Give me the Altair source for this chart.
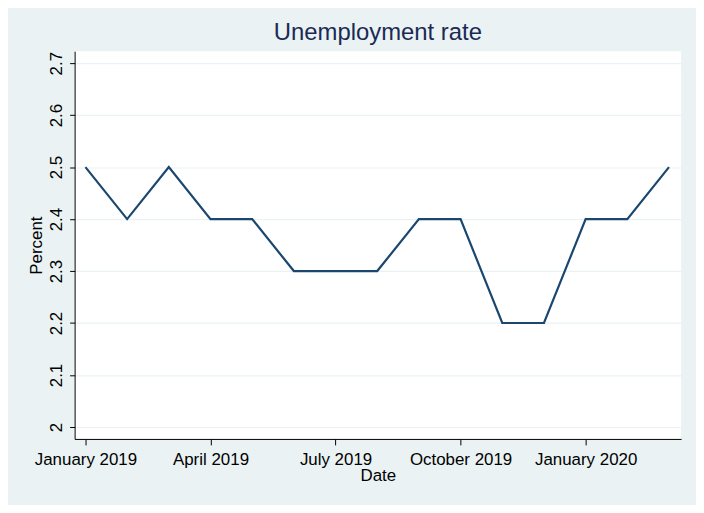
import altair as alt
import pandas as pd

months = ["2019-01", "2019-02", "2019-03", "2019-04", "2019-05", "2019-06", "2019-07",
          "2019-08", "2019-09", "2019-10", "2019-11", "2019-12", "2020-01", "2020-02", "2020-03"]
rates = [2.5, 2.4, 2.5, 2.4, 2.4, 2.3, 2.3, 2.3, 2.4, 2.4, 2.2, 2.2, 2.4, 2.4, 2.5]
tick_labels = ["January 2019", "April 2019", "July 2019", "October 2019", "January 2020"]
y_ticks = [2.0, 2.1, 2.2, 2.3, 2.4, 2.5, 2.6, 2.7]

df = pd.DataFrame({"month": months, "idx": list(range(len(months))), "rate": rates})

label_expr = "[" + ",".join(f"'{l}'" for l in tick_labels) + "][datum.value/3]"

FONT = "Liberation Sans"
BG = "#eaf2f3"

chart = alt.Chart(df).mark_line(color="#1a476f", strokeWidth=2.2).encode(
    x=alt.X("idx:Q",
            scale=alt.Scale(domain=[-0.26, 14.29], nice=False, zero=False),
            axis=alt.Axis(title="Date", values=[0, 3, 6, 9, 12], labelExpr=label_expr,
                          grid=False, domainColor="black", tickColor="black",
                          tickSize=6, labelPadding=7, titlePadding=0,
                          labelFontSize=17, titleFontSize=17, labelColor="black",
                          titleColor="black", titleFontWeight="normal",
                          labelFont=FONT, titleFont=FONT, labelFlush=False)),
    y=alt.Y("rate:Q",
            scale=alt.Scale(domain=[1.977, 2.723], nice=False, zero=False),
            axis=alt.Axis(title="Percent", values=y_ticks, format=".1~f",
                          grid=True, gridColor=BG, gridWidth=1.2,
                          domainColor="black", tickColor="black", tickSize=5,
                          labelAngle=270, labelAlign="center", labelBaseline="bottom",
                          labelPadding=4, titlePadding=2,
                          labelFontSize=17, titleFontSize=17, labelColor="black",
                          titleColor="black", titleFontWeight="normal",
                          labelFont=FONT, titleFont=FONT, labelFlush=False)),
).properties(
    width=610,
    height=390,
    title=alt.TitleParams("Unemployment rate", fontSize=24, font=FONT, color="#1a2a55",
                          fontWeight="normal", anchor="middle", offset=6),
    autosize=alt.AutoSizeParams(type="none"),
    padding={"left": 67, "top": 42, "right": 15, "bottom": 65},
    background=BG,
).configure_view(
    fill="white", stroke=None
)

chart.save("out.html", embed_options={"renderer": "svg", "actions": False})
